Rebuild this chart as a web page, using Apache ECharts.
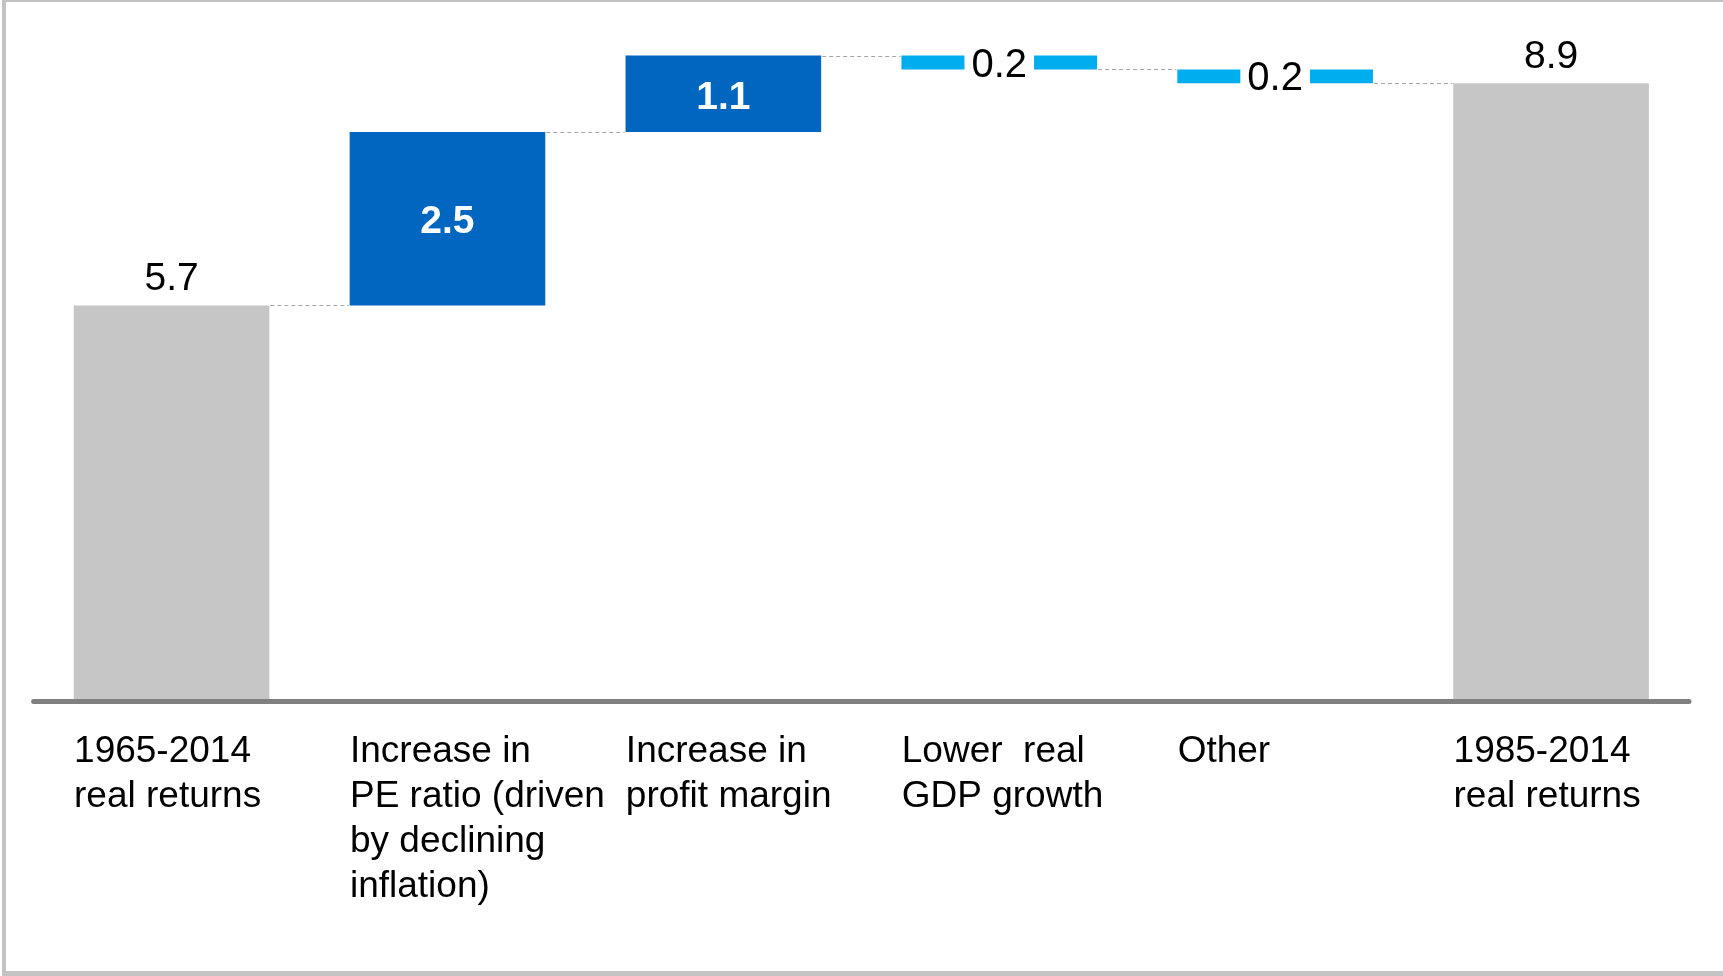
<!DOCTYPE html>
<html><head><meta charset="utf-8">
<script src="https://cdn.jsdelivr.net/npm/echarts@6/dist/echarts.min.js"></script>
<style>
html,body{margin:0;padding:0;background:#fff;overflow:hidden;}
#chart{position:absolute;left:0;top:0;width:1723px;height:976px;}
#frame{position:absolute;left:2px;top:0;width:1721px;height:976px;box-sizing:border-box;border-top:2px solid #c3c3c3;border-left:4px solid #c3c3c3;border-bottom:5px solid #c3c3c3;pointer-events:none;}
</style></head>
<body><div id="chart"></div><div id="frame"></div>
<script>
// ---- data ----
const categories = [
  '1965-2014\nreal returns',
  'Increase in\nPE ratio (driven\nby declining\ninflation)',
  'Increase in\nprofit margin',
  'Lower  real\nGDP growth',
  'Other',
  '1985-2014\nreal returns'
];
const changes = [5.7, 2.5, 1.1, -0.2, -0.2, 8.9];
const kinds = ['total', 'up', 'up', 'down', 'down', 'total'];
const yMin = 0;
const yMax = 10;

// ---- build waterfall ----
const FONT = 'Liberation Sans, Arial, sans-serif';
const BAR_FRAC = 0.709;
const colors = { total: '#c6c6c6', up: '#0066c0', down: '#00adef' };
const baseData = [], valData = [], connData = [];
let running = 0;
changes.forEach((v, i) => {
  const k = kinds[i];
  let base, h;
  if (k === 'total') { base = 0; h = v; running = v; }
  else if (k === 'up') { base = running; h = v; running += v; }
  else { running += v; base = running; h = -v; }
  running = Math.round(running * 100) / 100;
  baseData.push(base);
  let label;
  if (k === 'total') {
    label = { show: true, position: 'top', distance: 7, color: '#000', fontSize: 39, fontFamily: FONT };
  } else if (k === 'up') {
    label = { show: true, position: 'inside', color: '#fff', fontWeight: 'bold', fontSize: 39, fontFamily: FONT, offset: [0, 4] };
  } else {
    label = { show: true, position: 'inside', color: '#000', fontSize: 40, fontFamily: FONT, backgroundColor: '#fff', padding: [0, 7, 0, 7], offset: [0, 3] };
  }
  valData.push({ value: h, itemStyle: { color: colors[k] }, label: Object.assign(label, { formatter: Math.abs(v).toFixed(1) }) });
  if (i < changes.length - 1) connData.push([i, running]);
});

const chart = echarts.init(document.getElementById('chart'), null, { renderer: 'canvas' });
chart.setOption({
  animation: false,
  backgroundColor: 'transparent',
  grid: { left: 33.6, right: 34, top: 7, bottom: 275, containLabel: false },
  xAxis: {
    type: 'category',
    data: categories,
    z: 5,
    axisLine: { show: true, lineStyle: { color: '#808080', width: 5 } },
    axisTick: { show: false },
    axisLabel: {
      interval: 0,
      margin: 28,
      formatter: v => v.split('\n').map(l => '{a|' + l + '}').join('\n'),
      rich: { a: { width: 195, align: 'left', fontSize: 37, lineHeight: 45, color: '#000', fontFamily: FONT } }
    }
  },
  yAxis: { type: 'value', min: yMin, max: yMax, show: false, splitLine: { show: false } },
  series: [
    { type: 'bar', stack: 'w', data: baseData, barWidth: (BAR_FRAC * 100) + '%', itemStyle: { color: 'transparent' }, emphasis: { disabled: true }, silent: true },
    { type: 'bar', stack: 'w', data: valData, barWidth: (BAR_FRAC * 100) + '%' },
    {
      type: 'custom',
      data: connData,
      z: 1,
      renderItem: function (params, api) {
        const i = api.value(0), lvl = api.value(1);
        const p0 = api.coord([i, lvl]), p1 = api.coord([i + 1, lvl]);
        const bw = api.size([1, 0])[0] * BAR_FRAC;
        const y = Math.round(p0[1]) + 0.5;
        return { type: 'line', shape: { x1: p0[0] + bw / 2 + 1, y1: y, x2: p1[0] - bw / 2 - 1, y2: y },
                 style: { stroke: '#a6a6a6', lineWidth: 1, lineDash: [4, 3] } };
      }
    }
  ]
});
</script>
</body></html>
